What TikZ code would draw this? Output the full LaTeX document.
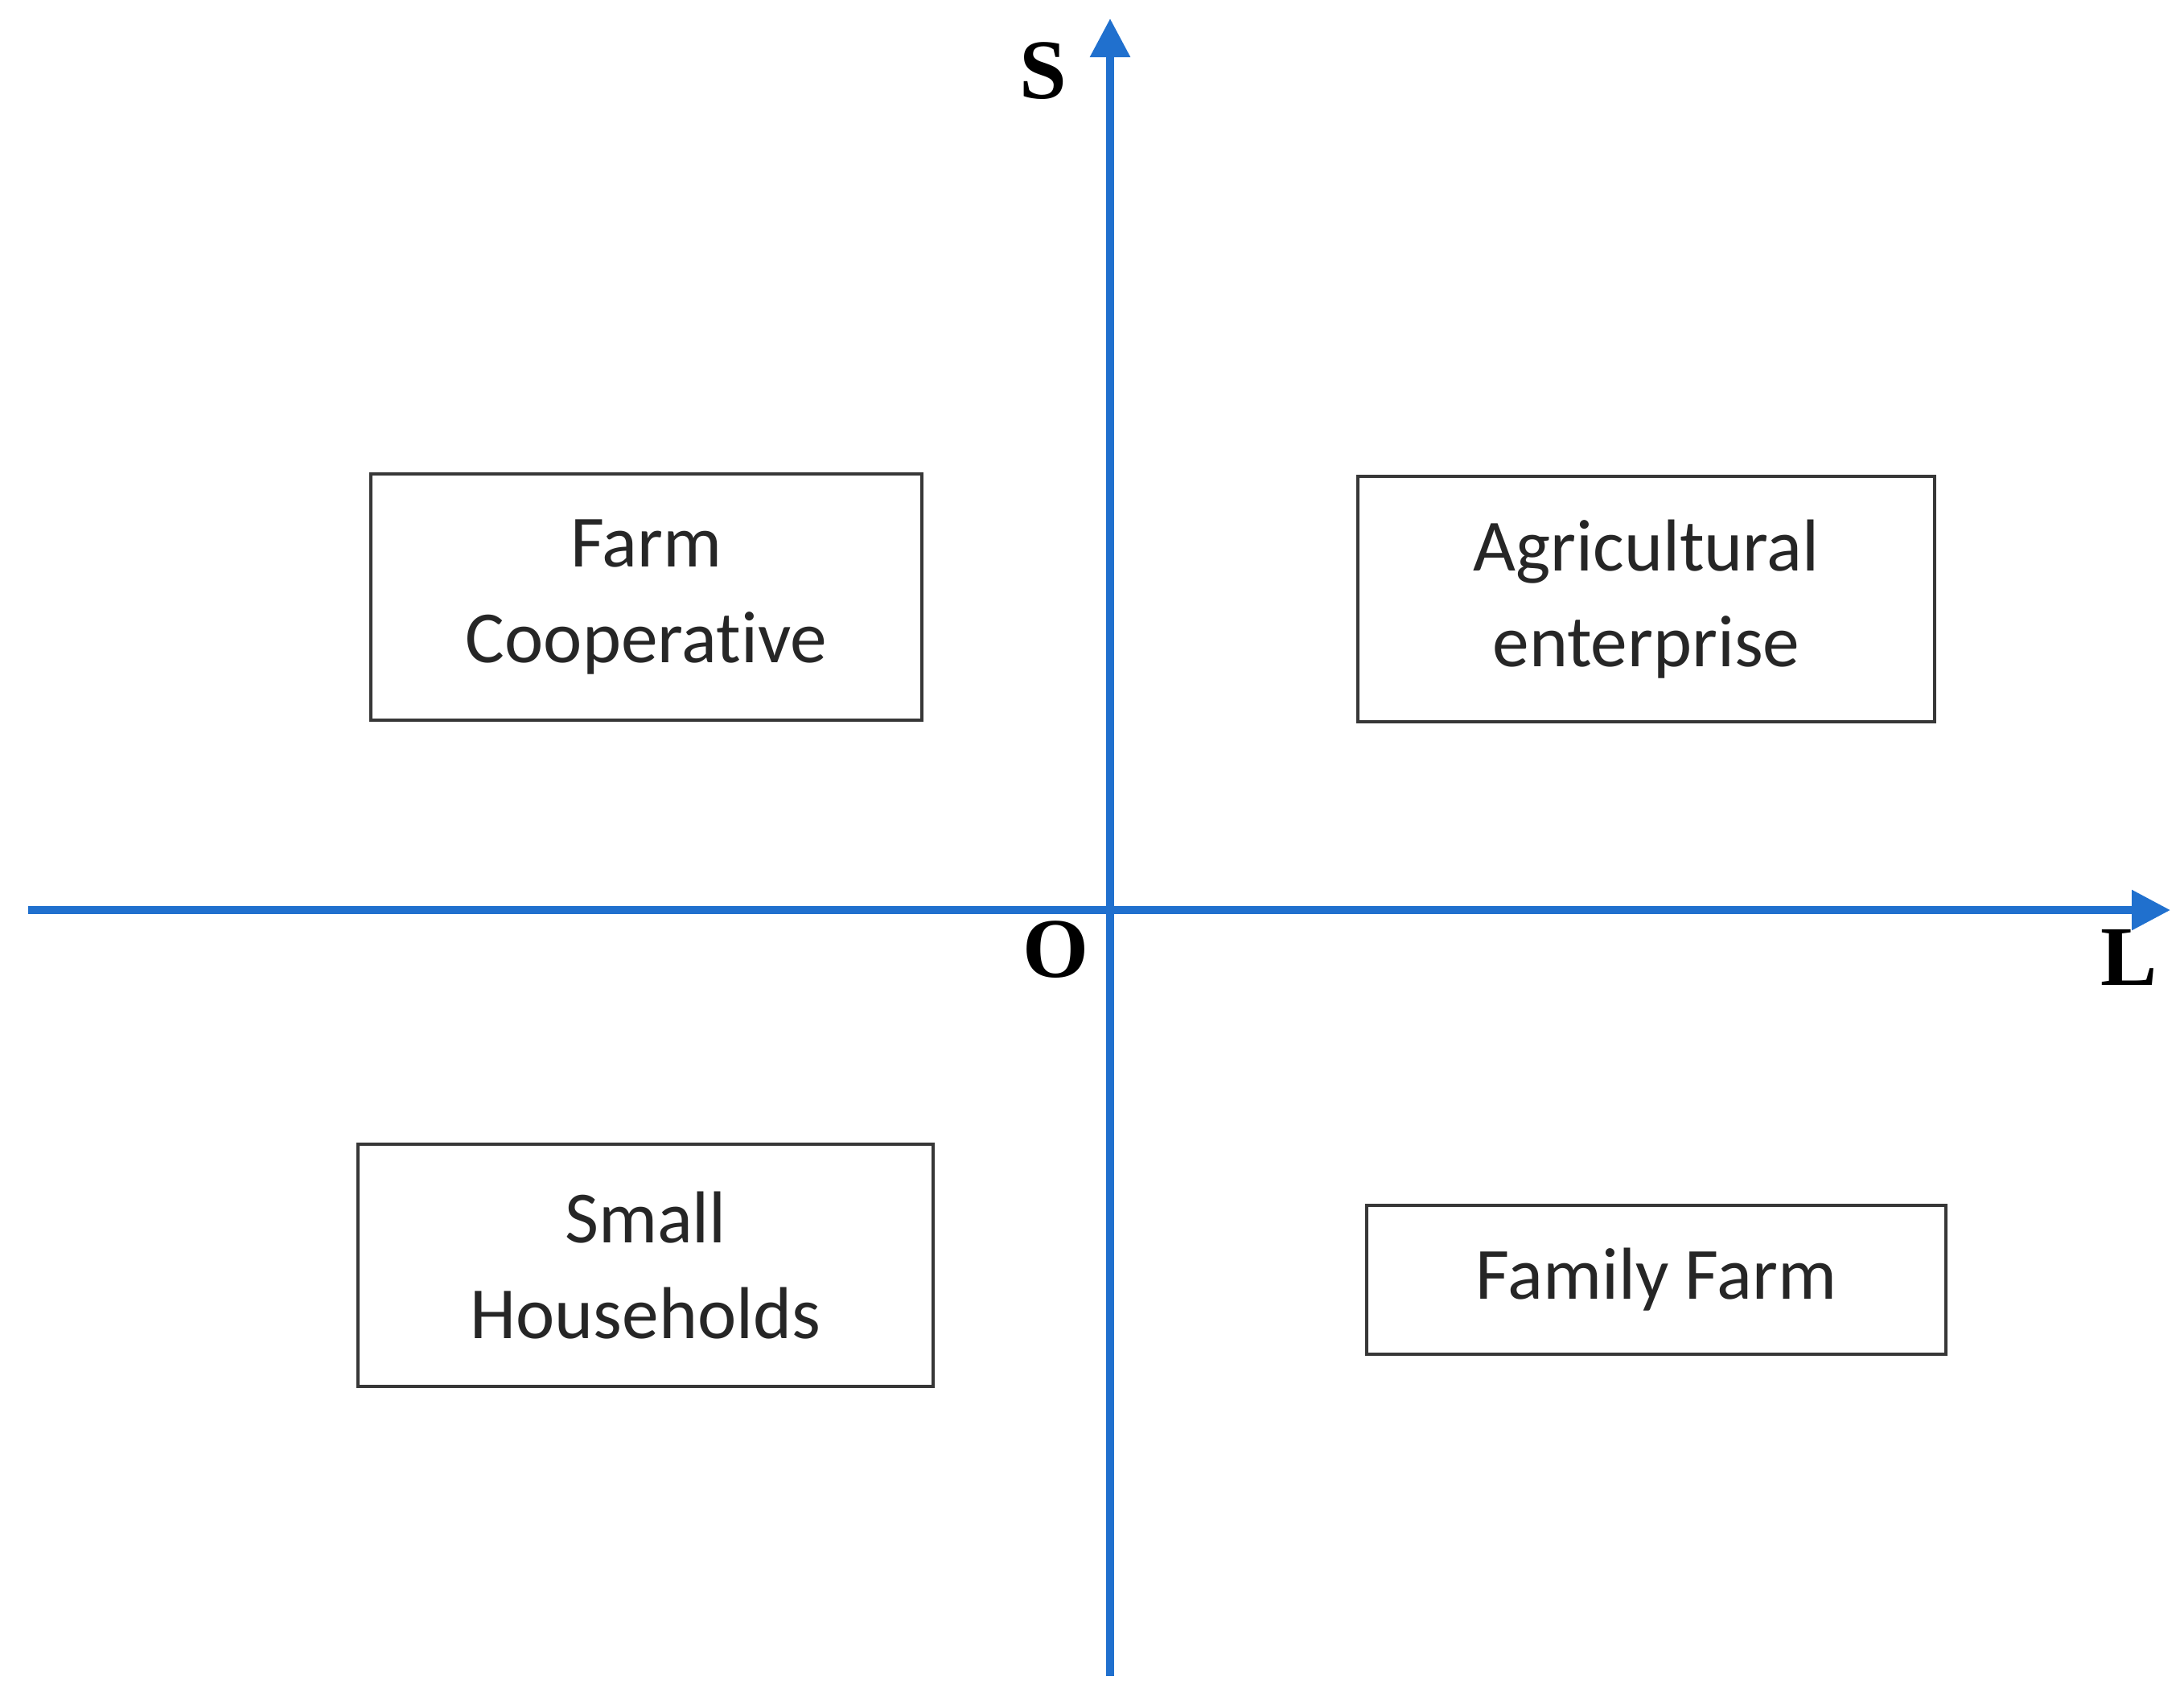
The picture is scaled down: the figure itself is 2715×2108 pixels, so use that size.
\documentclass[tikz,border=0pt]{standalone}
\usepackage{fontspec}
\setmainfont[Ligatures=NoCommon]{Carlito}
\newfontfamily\labelfont{Liberation Serif}
\usetikzlibrary{arrows.meta}
\definecolor{axisblue}{RGB}{32,112,206}
\definecolor{boxline}{RGB}{55,55,55}
\tikzset{
  axisline/.style={draw=axisblue, line width=2.6pt, -{Triangle[length=0.48cm,width=0.48cm]}},
  quadbox/.style={draw=boxline, line width=1.1pt, rectangle, inner sep=0pt, align=center,
    font=\fontsize{26pt}{34pt}\selectfont, text=black!85},
  axislabel/.style={font=\labelfont\bfseries\fontsize{30pt}{30pt}\selectfont, inner sep=0pt}
}
\begin{document}
\begin{tikzpicture}[x=0.01cm,y=-0.01cm]
\useasboundingbox (0,0) rectangle (2715,2108);
% axes
\coordinate (xs) at (35,1131);
\coordinate (xe) at (2698,1131);
\coordinate (ys) at (1380,2083);
\coordinate (ye) at (1380,23);
\draw[axisline] (xs) -- (xe);
\draw[axisline] (ys) -- (ye);
% labels
\node[axislabel] (S) at (1297,88) {S};
\node[axislabel] (O) at (1313,1180) {O};
\node[axislabel] (L) at (2647,1190) {L};
% boxes
\node[quadbox, minimum width=6.85cm, minimum height=3.06cm] (fc) at (803.5,742) {Farm\\Cooperative};
\node[quadbox, minimum width=7.17cm, minimum height=3.05cm] (ae) at (2046.5,744.5) {Agricultural\\enterprise};
\node[quadbox, minimum width=7.15cm, minimum height=3.01cm] (sh) at (802.5,1572.5) {Small\\Households};
\node[quadbox, minimum width=7.20cm, minimum height=1.85cm] (ff) at (2059,1590.5) {Family Farm};
\end{tikzpicture}
\end{document}
